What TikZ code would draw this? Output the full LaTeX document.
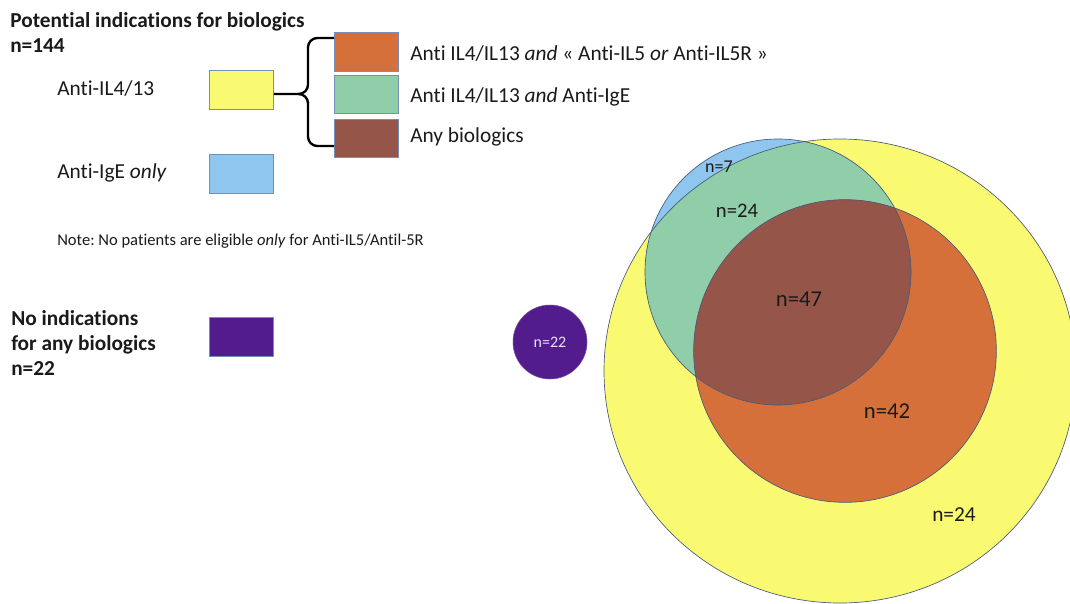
\documentclass[tikz,border=0pt]{standalone}
\usepackage{fontspec}
\setmainfont[Ligatures={NoCommon,NoRare}]{Carlito}
\definecolor{cyel}{HTML}{FAFA72}
\definecolor{cblu}{HTML}{8FC6EF}
\definecolor{cgrn}{HTML}{8FCEA9}
\definecolor{corg}{HTML}{D6703A}
\definecolor{cbrn}{HTML}{955649}
\definecolor{cpur}{HTML}{531C8C}
\definecolor{cbox}{HTML}{7590B8}
\definecolor{cline}{HTML}{4A5A7A}
\definecolor{ctxt}{HTML}{1A1A1A}
\frenchspacing
\begin{document}
\begin{tikzpicture}[x=0.75pt,y=-0.75pt,
  legbox/.style={draw=cbox,line width=0.6pt,minimum width=48pt,minimum height=29pt,inner sep=0pt,anchor=north west},
  legtxt/.style={anchor=base west,inner sep=0pt,text=ctxt,font=\fontsize{16}{19}\selectfont},
  headtxt/.style={legtxt,font=\fontsize{16}{19}\selectfont\bfseries},
  vlab/.style={inner sep=0pt,text=ctxt},
  outl/.style={draw=cline,line width=0.5pt},
  bracepath/.style={draw=black,line width=1.8pt,rounded corners=7pt}]
\useasboundingbox (0,0) rectangle (1070,603);
\fill[white] (0,0) rectangle (1070,603);
% ---------- legend ----------
\node[headtxt] (title) at (10,27) {Potential indications for biologics};
\node[headtxt] (ntot) at (10,52) {n=144};
\node[legtxt] (tIL) at (57,95) {Anti-IL4/13};
\node[legtxt] (tIgE) at (57,178) {Anti-IgE \textit{only}};
\node[legbox,fill=cyel] (byel) at (209,70) {};
\node[legbox,fill=cblu] (bblu) at (209,154) {};
\node[legbox,fill=corg,minimum height=29.25pt] (borg) at (334,32) {};
\node[legbox,fill=cgrn,minimum height=28.5pt] (bgrn) at (334,75) {};
\node[legbox,fill=cbrn,minimum height=28.5pt] (bbrn) at (334,119) {};
\node[legtxt] (torg) at (410,60) {Anti IL4/IL13 \textit{and} « Anti-IL5 \textit{or} Anti-IL5R »};
\node[legtxt] (tgrn) at (410,102) {Anti IL4/IL13 \textit{and} Anti-IgE};
\node[legtxt] (tbrn) at (410,142) {Any biologics};
\coordinate (bcusp) at (308,94);
\coordinate (btop) at (308,38);
\coordinate (bbot) at (308,146);
\draw[bracepath] (borg.west |- btop) -- (btop) -- (bcusp) -- (byel.east |- bcusp);
\draw[bracepath] (bbrn.west |- bbot) -- (bbot) -- (bcusp) -- (298,94);
\node[legtxt,font=\fontsize{12.4}{14}\selectfont] (note) at (57,245) {Note: No patients are eligible \textit{only} for Anti-IL5/Antil-5R};
\node[headtxt] (noind1) at (11,325) {No indications};
\node[headtxt] (noind2) at (11,350) {for any biologics};
\node[headtxt] (noind3) at (11,375) {n=22};
\node[legbox,fill=cpur] (bpur) at (209,317) {};
% ---------- Venn ----------
\coordinate (cY) at (840,371);
\coordinate (cB) at (778,272);
\coordinate (cO) at (845,351);
\fill[cyel] (cY) ellipse [x radius=177pt, y radius=174pt];
\fill[cblu] (cB) circle [radius=99.75pt];
\begin{scope}
  \clip (cY) ellipse [x radius=177pt, y radius=174pt];
  \fill[cgrn] (cB) circle [radius=99.75pt];
\end{scope}
\fill[corg] (cO) circle [radius=113.5pt];
\begin{scope}
  \clip (cO) circle [radius=113.5pt];
  \fill[cbrn] (cB) circle [radius=99.75pt];
\end{scope}
\draw[outl] (cY) ellipse [x radius=177pt, y radius=174pt];
\draw[outl] (cB) circle [radius=99.75pt];
\draw[outl] (cO) circle [radius=113.5pt];
\node[circle,fill=cpur,draw=cpur!80!white,line width=0.4pt,minimum size=55.5pt,inner sep=0pt,text=white!88!cpur,font=\fontsize{12}{14}\selectfont] (pur) at (550,342) {n=22};
\node[vlab,font=\fontsize{13.5}{16}\selectfont] (l7) at (719,167) {n=7};
\node[vlab,font=\fontsize{15.5}{18}\selectfont] (l24a) at (737,211) {n=24};
\node[vlab,font=\fontsize{17}{20}\selectfont] (l47) at (799,299) {n=47};
\node[vlab,font=\fontsize{17}{20}\selectfont] (l42) at (887,411) {n=42};
\node[vlab,font=\fontsize{16}{19}\selectfont] (l24b) at (954,515) {n=24};
\end{tikzpicture}
\end{document}
